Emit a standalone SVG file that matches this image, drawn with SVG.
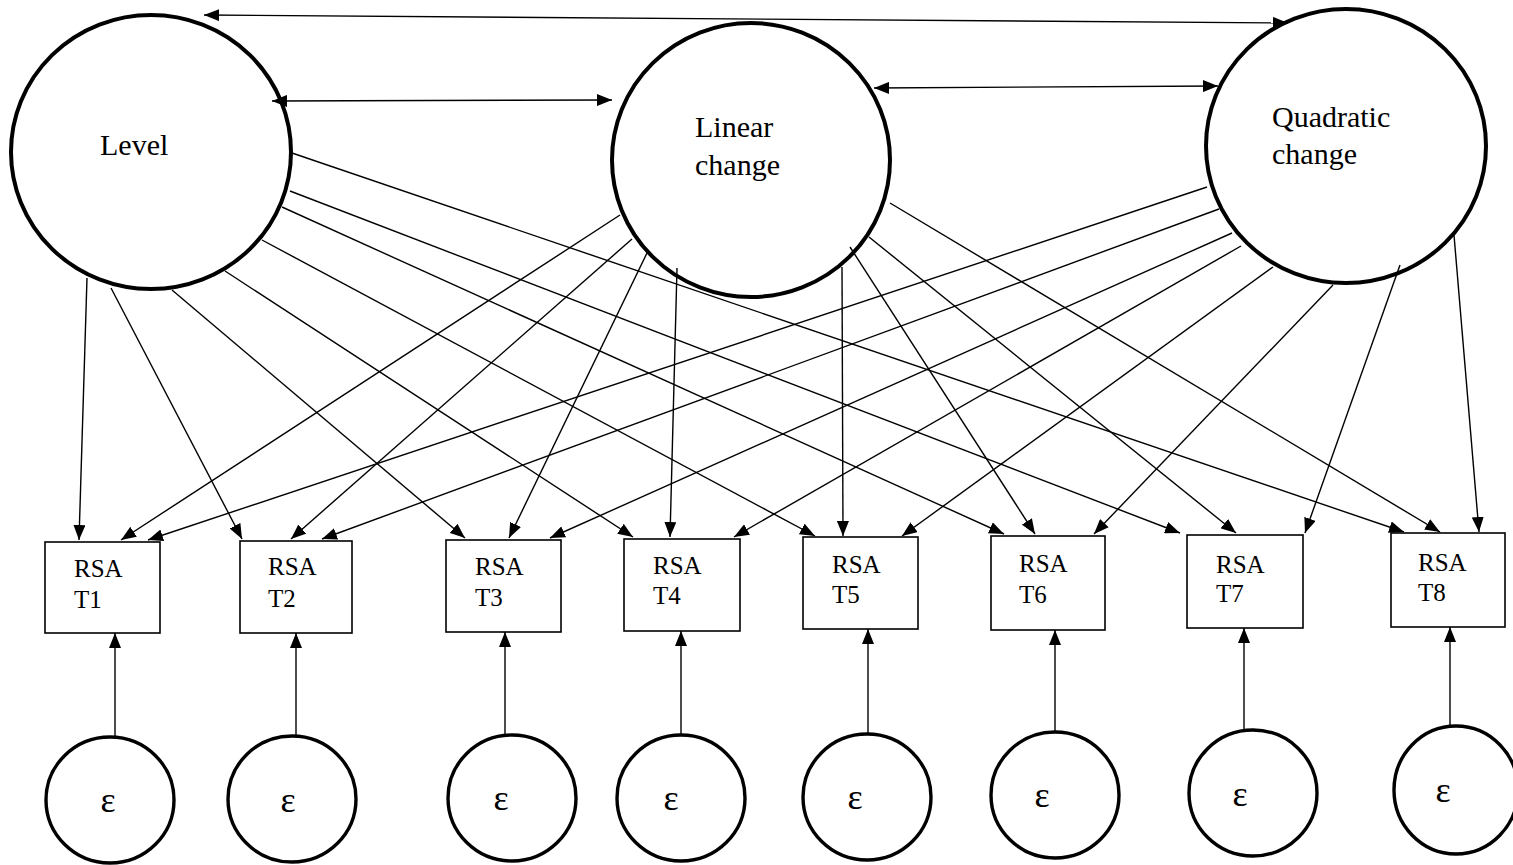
<svg xmlns="http://www.w3.org/2000/svg" width="1513" height="865" viewBox="0 0 1513 865">
<style>
.lat{fill:#fff;stroke:#000;stroke-width:4}
.err{fill:#fff;stroke:#000;stroke-width:3.4}
.box{fill:#fff;stroke:#000;stroke-width:1.6}
.t{font-family:"Liberation Serif","Times New Roman",serif;fill:#000}
.lt{font-size:30px}
.bt{font-size:25px}
.et{font-size:36px}
.c line{stroke:#000;stroke-width:1.4;marker-end:url(#ah)}
.c line.d{marker-start:url(#ah)}
</style>
<defs>
<marker id="ah" markerUnits="userSpaceOnUse" markerWidth="16" markerHeight="12" refX="15" refY="6" orient="auto-start-reverse">
<path d="M0,0 L15,6 L0,12 z" fill="#000"/>
</marker>
</defs>
<rect width="1513" height="865" fill="#fff"/>
<g id="level"><ellipse class="lat" cx="151" cy="152" rx="140" ry="137"/><text class="t lt" x="100" y="155">Level</text></g>
<g id="linear"><ellipse class="lat" cx="751" cy="160" rx="139" ry="137"/><text class="t lt" x="695" y="137">Linear</text><text class="t lt" x="695" y="175">change</text></g>
<g id="quadratic"><ellipse class="lat" cx="1346" cy="146" rx="140" ry="137"/><text class="t lt" x="1272" y="127">Quadratic</text><text class="t lt" x="1272" y="164">change</text></g>
<g id="t1"><rect class="box" x="45" y="542" width="115" height="91"/><text class="t bt" x="74" y="577">RSA</text><text class="t bt" x="74" y="608">T1</text></g>
<g id="t2"><rect class="box" x="240" y="541" width="112" height="92"/><text class="t bt" x="268" y="575">RSA</text><text class="t bt" x="268" y="607">T2</text></g>
<g id="t3"><rect class="box" x="446" y="540" width="115" height="92"/><text class="t bt" x="475" y="575">RSA</text><text class="t bt" x="475" y="606">T3</text></g>
<g id="t4"><rect class="box" x="624" y="539" width="116" height="92"/><text class="t bt" x="653" y="574">RSA</text><text class="t bt" x="653" y="604">T4</text></g>
<g id="t5"><rect class="box" x="803" y="537" width="115" height="92"/><text class="t bt" x="832" y="573">RSA</text><text class="t bt" x="832" y="603">T5</text></g>
<g id="t6"><rect class="box" x="991" y="536" width="114" height="94"/><text class="t bt" x="1019" y="572">RSA</text><text class="t bt" x="1019" y="603">T6</text></g>
<g id="t7"><rect class="box" x="1187" y="535" width="116" height="93"/><text class="t bt" x="1216" y="573">RSA</text><text class="t bt" x="1216" y="602">T7</text></g>
<g id="t8"><rect class="box" x="1391" y="533" width="114" height="94"/><text class="t bt" x="1418" y="571">RSA</text><text class="t bt" x="1418" y="601">T8</text></g>
<g id="e1"><ellipse class="err" cx="110" cy="800" rx="64" ry="63"/><text class="t et" x="108" y="812" text-anchor="middle">ε</text></g>
<g id="e2"><ellipse class="err" cx="292" cy="799" rx="64" ry="63"/><text class="t et" x="288" y="812" text-anchor="middle">ε</text></g>
<g id="e3"><ellipse class="err" cx="512" cy="798" rx="64" ry="63"/><text class="t et" x="501" y="810" text-anchor="middle">ε</text></g>
<g id="e4"><ellipse class="err" cx="681" cy="798" rx="64" ry="63"/><text class="t et" x="671" y="810" text-anchor="middle">ε</text></g>
<g id="e5"><ellipse class="err" cx="867" cy="797" rx="64" ry="63"/><text class="t et" x="855" y="809" text-anchor="middle">ε</text></g>
<g id="e6"><ellipse class="err" cx="1055" cy="795" rx="64" ry="63"/><text class="t et" x="1042" y="807" text-anchor="middle">ε</text></g>
<g id="e7"><ellipse class="err" cx="1253" cy="793" rx="64" ry="63"/><text class="t et" x="1240" y="806" text-anchor="middle">ε</text></g>
<g id="e8"><ellipse class="err" cx="1456" cy="790" rx="62" ry="64"/><text class="t et" x="1443" y="802" text-anchor="middle">ε</text></g>
<g id="connectors" class="c">
<line class="d" x1="204" y1="15" x2="1288" y2="23"/>
<line class="d" x1="272" y1="101" x2="612" y2="100"/>
<line class="d" x1="874" y1="88" x2="1218" y2="86"/>
<line x1="87" y1="278" x2="79" y2="540"/>
<line x1="111" y1="288" x2="242" y2="539"/>
<line x1="172" y1="290" x2="465" y2="538"/>
<line x1="225" y1="271" x2="633" y2="537"/>
<line x1="262" y1="240" x2="815" y2="536"/>
<line x1="282" y1="207" x2="1004" y2="534"/>
<line x1="290" y1="191" x2="1180" y2="533"/>
<line x1="292" y1="153" x2="1404" y2="532"/>
<line x1="620" y1="215" x2="121" y2="540"/>
<line x1="632" y1="239" x2="291" y2="539"/>
<line x1="647" y1="253" x2="509" y2="538"/>
<line x1="677" y1="268" x2="670" y2="537"/>
<line x1="842" y1="267" x2="843" y2="536"/>
<line x1="850" y1="247" x2="1035" y2="534"/>
<line x1="869" y1="237" x2="1236" y2="533"/>
<line x1="890" y1="203" x2="1440" y2="532"/>
<line x1="1207" y1="187" x2="148" y2="540"/>
<line x1="1219" y1="209" x2="322" y2="539"/>
<line x1="1232" y1="233" x2="550" y2="538"/>
<line x1="1241" y1="246" x2="734" y2="537"/>
<line x1="1273" y1="267" x2="902" y2="536"/>
<line x1="1333" y1="285" x2="1094" y2="534"/>
<line x1="1400" y1="265" x2="1305" y2="533"/>
<line x1="1454" y1="235" x2="1479" y2="532"/>
<line x1="115" y1="737" x2="115" y2="633"/>
<line x1="296" y1="736" x2="296" y2="633"/>
<line x1="505" y1="735" x2="505" y2="632"/>
<line x1="681" y1="735" x2="681" y2="631"/>
<line x1="868" y1="734" x2="868" y2="629"/>
<line x1="1055" y1="732" x2="1055" y2="630"/>
<line x1="1244" y1="730" x2="1244" y2="628"/>
<line x1="1450" y1="726" x2="1450" y2="627"/>
</g>
</svg>
